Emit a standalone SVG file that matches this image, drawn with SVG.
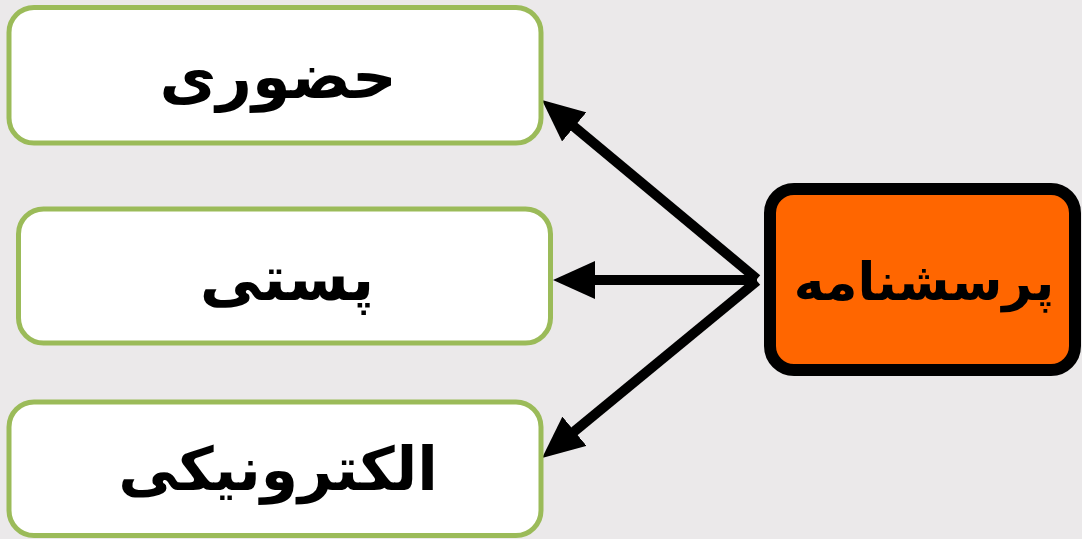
<svg xmlns="http://www.w3.org/2000/svg" width="1082" height="539" viewBox="0 0 1082 539">
  <defs>
    <style>
      .box { fill: #ffffff; stroke: #9bbb59; stroke-width: 5; }
      .main { fill: #ff6600; stroke: #000000; stroke-width: 12; }
      .lbl { font-family: "DejaVu Sans", "Noto Sans", sans-serif; font-weight: bold; font-size: 62px; fill: #000; text-anchor: middle; direction: rtl; }
      .conn { stroke: #000; stroke-width: 10; fill: none; marker-end: url(#arrow); }
    </style>
    <marker id="arrow" markerUnits="userSpaceOnUse" markerWidth="42" markerHeight="38" viewBox="0 0 42 38" refX="12" refY="19" orient="auto">
      <path d="M0,0 L42,19 L0,38 z" fill="#000"/>
    </marker>
  </defs>
  <rect width="1082" height="539" fill="#ebe9ea"/>
  <g id="connectors">
    <line class="conn" x1="757" y1="279" x2="565" y2="119.2"/>
    <line class="conn" x1="757" y1="280" x2="583" y2="280"/>
    <line class="conn" x1="757" y1="281" x2="565.2" y2="438.9"/>
  </g>
  <g id="node-hozoori">
    <rect class="box" x="9" y="7.5" width="532" height="135.5" rx="25"/>
    <text class="lbl" x="278" y="98">حضوری</text>
  </g>
  <g id="node-posti">
    <rect class="box" x="18.5" y="209" width="532" height="134" rx="25"/>
    <text class="lbl" x="287" y="300">پستی</text>
  </g>
  <g id="node-electronic">
    <rect class="box" x="9" y="402" width="532" height="133.5" rx="25"/>
    <text class="lbl" x="278" y="490" style="font-size:60px">الکترونیکی</text>
  </g>
  <g id="node-porseshname">
    <rect class="main" x="770" y="189" width="305" height="181" rx="24"/>
    <text class="lbl" x="924" y="300" style="font-size:52px">پرسشنامه</text>
  </g>
</svg>
